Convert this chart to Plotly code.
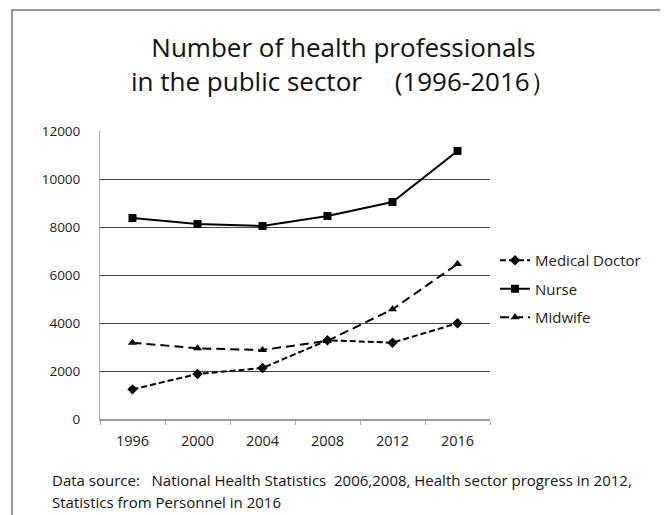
import plotly.graph_objects as go

years = ["1996", "2000", "2004", "2008", "2012", "2016"]
medical_doctor = [1235, 1875, 2125, 3280, 3180, 3990]
nurse = [8375, 8125, 8040, 8460, 9040, 11170]
midwife = [3180, 2945, 2875, 3260, 4570, 6460]

FONT = "'Open Sans', Lato, sans-serif"

fig = go.Figure()
fig.add_trace(go.Scatter(
    x=years, y=medical_doctor, name="Medical Doctor", mode="lines+markers",
    legendgroup="a",
    line=dict(color="black", width=2, dash="6px,3px"),
    marker=dict(symbol="diamond", size=8, color="black")))
fig.add_trace(go.Scatter(
    x=years, y=nurse, name="Nurse", mode="lines+markers",
    legendgroup="b",
    line=dict(color="black", width=2),
    marker=dict(symbol="square", size=8, color="black")))
fig.add_trace(go.Scatter(
    x=years, y=midwife, name="Midwife", mode="lines+markers",
    legendgroup="c",
    line=dict(color="black", width=2, dash="9px,5px"),
    marker=dict(symbol="triangle-up", size=8, color="black")))

# page body has an 8px margin; work in reference pixel coords and shift
OFF = 8
W, H = 668 - OFF, 515 - OFF
L, T = 100 - OFF, 131 - OFF
R = W - (490 - OFF)
B = H - (419 - OFF)
pw, ph = W - L - R, H - T - B

def px(x):
    return (x - OFF - L) / pw

def py(y):
    return (H - B - (y - OFF)) / ph

fig.update_layout(
    width=W, height=H,
    margin=dict(l=L, r=R, t=T, b=B),
    paper_bgcolor="white", plot_bgcolor="white",
    font=dict(family=FONT, color="#222", size=13),
    showlegend=True,
    legend=dict(x=px(495), y=py(244), xanchor="left", yanchor="top",
                font=dict(size=15, family=FONT, color="#222"),
                tracegroupgap=6, itemwidth=30, bgcolor="rgba(0,0,0,0)"),
    xaxis=dict(type="category", tickson="boundaries", ticks="outside", ticklen=4,
               tickcolor="#aaa", showline=True, linecolor="#999", linewidth=1.5,
               showgrid=False, tickfont=dict(size=14.5, family=FONT, color="#222"),
               ticklabelstandoff=8, range=[-0.5, 5.5]),
    yaxis=dict(range=[0, 12000], dtick=2000, tickformat="d", showline=True,
               linecolor="#aaa", linewidth=1,
               showgrid=True, gridcolor="#444", gridwidth=1, zeroline=False,
               tickfont=dict(size=13.5, family=FONT, color="#222"), ticks="",
               ticklabelstandoff=16),
)

fig.add_annotation(
    text="Number of health professionals<br>in the public sector　 (1996-2016）",
    xref="paper", yref="paper", x=px(343), y=py(63.5), xanchor="center", yanchor="middle",
    showarrow=False, font=dict(size=26, family=FONT, color="#111"))

fig.add_annotation(
    text="Data source:   National Health Statistics  2006,2008, Health sector progress in 2012,",
    xref="paper", yref="paper", x=px(50), y=py(480), xanchor="left", yanchor="middle",
    align="left", showarrow=False, font=dict(size=15, family=FONT, color="#111"))
fig.add_annotation(
    text="Statistics from Personnel in 2016",
    xref="paper", yref="paper", x=px(50), y=py(502), xanchor="left", yanchor="middle",
    align="left", showarrow=False, font=dict(size=15, family=FONT, color="#111"))

fig.add_shape(type="rect", xref="paper", yref="paper",
              x0=px(12), x1=px(666), y0=py(540), y1=py(10),
              line=dict(color="#777", width=1.5), fillcolor="rgba(0,0,0,0)", layer="below")

fig.write_html("out.html")
